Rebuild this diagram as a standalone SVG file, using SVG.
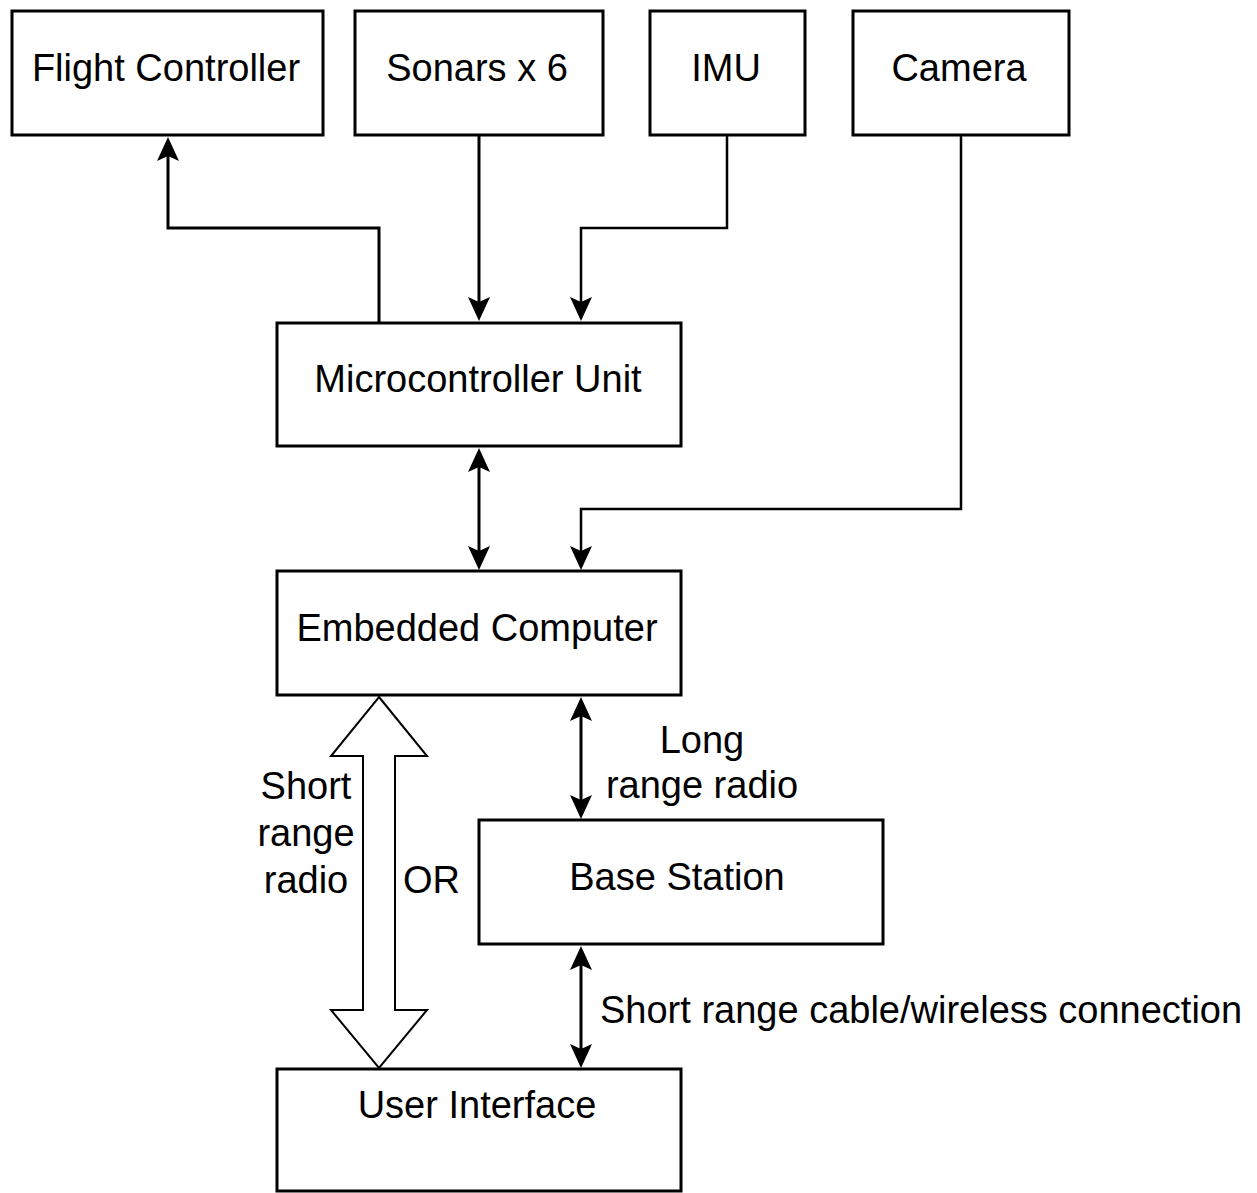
<svg xmlns="http://www.w3.org/2000/svg" width="1257" height="1193" viewBox="0 0 1257 1193">
  <style>
    .box { fill: #ffffff; stroke: #000000; stroke-width: 3; }
    .lbl { font-family: "Liberation Sans", Arial, Helvetica, sans-serif; font-size: 38px; fill: #000000; }
    .mid { text-anchor: middle; }
    .wire { fill: none; stroke: #000000; stroke-width: 3; }
    .wire-thin { fill: none; stroke: #000000; stroke-width: 2.5; }
    .fat { fill: #ffffff; stroke: #000000; stroke-width: 2; stroke-linejoin: miter; }
  </style>
  <defs>
    <!-- classic notched arrowhead; tip sits 10px beyond the path end -->
    <marker id="arrow" viewBox="0 0 24 22" refX="14" refY="11" markerWidth="24" markerHeight="22" markerUnits="userSpaceOnUse" orient="auto-start-reverse">
      <path d="M0,0 L24,11 L0,22 L5,11 Z" fill="#000000"/>
    </marker>
  </defs>

  <rect width="1257" height="1193" fill="#ffffff"/>

  <!-- connectors -->
  <g id="connectors">
    <path class="wire" d="M379,322 V228 H168 V147" marker-end="url(#arrow)"/>
    <path class="wire" d="M479,135 V311" marker-end="url(#arrow)"/>
    <path class="wire-thin" d="M727,135 V228 H581 V311" marker-end="url(#arrow)"/>
    <path class="wire" d="M479,458 V560" marker-start="url(#arrow)" marker-end="url(#arrow)"/>
    <path class="wire-thin" d="M961,135 V509 H581 V560" marker-end="url(#arrow)"/>
    <path class="wire" d="M581,707 V809" marker-start="url(#arrow)" marker-end="url(#arrow)"/>
    <path class="wire" d="M581,956 V1058" marker-start="url(#arrow)" marker-end="url(#arrow)"/>
    <!-- wide hollow two-way arrow between the computer and the user interface -->
    <polygon class="fat" points="379,697 427,756 395,756 395,1010 427,1010 379,1068 331,1010 363,1010 363,756 331,756"/>
    <text class="lbl mid" x="702" y="753">Long</text>
    <text class="lbl mid" x="702" y="798">range radio</text>
    <text class="lbl" x="600" y="1023">Short range cable/wireless connection</text>
    <text class="lbl mid" x="306" y="799">Short</text>
    <text class="lbl mid" x="306" y="846">range</text>
    <text class="lbl mid" x="306" y="893">radio</text>
    <text class="lbl" x="403" y="893">OR</text>
  </g>

  <!-- nodes -->
  <g id="flight-controller">
    <rect class="box" x="12" y="11" width="311" height="124"/>
    <text class="lbl mid" x="166" y="81">Flight Controller</text>
  </g>
  <g id="sonars">
    <rect class="box" x="355" y="11" width="248" height="124"/>
    <text class="lbl mid" x="477" y="81">Sonars x 6</text>
  </g>
  <g id="imu">
    <rect class="box" x="650" y="11" width="155" height="124"/>
    <text class="lbl mid" x="726" y="81">IMU</text>
  </g>
  <g id="camera">
    <rect class="box" x="853" y="11" width="216" height="124"/>
    <text class="lbl mid" x="959" y="81">Camera</text>
  </g>
  <g id="microcontroller">
    <rect class="box" x="277" y="323" width="404" height="123"/>
    <text class="lbl mid" x="478" y="392">Microcontroller Unit</text>
  </g>
  <g id="embedded-computer">
    <rect class="box" x="277" y="571" width="404" height="124"/>
    <text class="lbl mid" x="477" y="641">Embedded Computer</text>
  </g>
  <g id="base-station">
    <rect class="box" x="479" y="820" width="404" height="124"/>
    <text class="lbl mid" x="677" y="890">Base Station</text>
  </g>
  <g id="user-interface">
    <rect class="box" x="277" y="1069" width="404" height="122"/>
    <text class="lbl mid" x="477" y="1118">User Interface</text>
  </g>
</svg>
